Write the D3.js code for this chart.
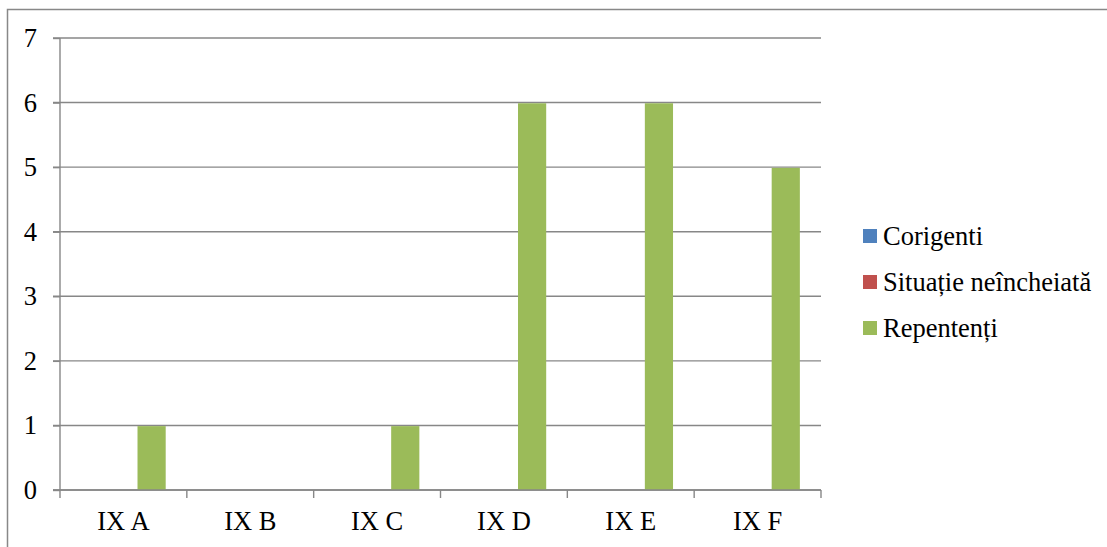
<!DOCTYPE html>
<html><head><meta charset="utf-8">
<script src="https://cdn.jsdelivr.net/npm/d3@7"></script>
<style>body{margin:0;background:#fff}svg{display:block}</style>
</head><body><svg id="c" width="1107" height="547" font-family="Liberation Serif" style="font-family:'Liberation Serif'"></svg>
<script>
const categories = ["IX A","IX B","IX C","IX D","IX E","IX F"];
const seriesNames = ["Corigenti","Situație neîncheiată","Repentenți"];
const corigenti = [0,0,0,0,0,0];
const situatie = [0,0,0,0,0,0];
const repetenti = [1,0,1,6,6,5];
const yTicks = [0,1,2,3,4,5,6,7];
const colors = ["#4F81BD","#C0504D","#9BBB59"];
const seriesVals = [corigenti, situatie, repetenti];

const svg = d3.select("#c");
const L=60,R=821,T=38,B=490;
const grid="#878787";
const FS=26.5, FF="Liberation Serif";
function styleText(sel){
  sel.attr("font-family",FF).attr("font-size",FS).attr("fill","#000")
     .style("font-family",`'${FF}'`).style("font-size",FS+"px");
}
svg.append("rect").attr("x",7.5).attr("y",9.5).attr("width",1120).attr("height",560)
  .attr("fill","none").attr("stroke","#888").attr("stroke-width",1.5);

const x = d3.scaleBand().domain(categories).range([L,R]);
const y = d3.scaleLinear().domain([0,7]).range([B,T]);
const gap = 1.5;
const bw = x.bandwidth()/(3+gap);

svg.append("g").selectAll("line").data(yTicks).join("line")
  .attr("x1",L-7).attr("x2",R).attr("y1",d=>y(d)).attr("y2",d=>y(d))
  .attr("stroke",grid).attr("stroke-width",1.4);

const ya = svg.append("g").attr("transform",`translate(${L},0)`)
  .call(d3.axisLeft(y).tickValues(yTicks).tickSize(7).tickPadding(16).tickFormat(d3.format("d")));
ya.attr("font-family",FF).attr("font-size",FS);
ya.select(".domain").attr("stroke",grid).attr("stroke-width",1.4).attr("d",`M0,${T}V${B+8}`);
ya.selectAll(".tick line").attr("stroke",grid).attr("stroke-width",1.4);
styleText(ya.selectAll("text"));

seriesVals.forEach((vals,si)=>{
  svg.append("g").selectAll("rect").data(categories).join("rect")
    .attr("x",d=>x(d)+bw*gap/2+si*bw).attr("width",bw)
    .attr("y",(d,i)=>y(vals[i])+0.7).attr("height",(d,i)=>Math.max(0,B-y(vals[i])-0.7))
    .attr("fill",colors[si]);
});

const xa = svg.append("g").attr("transform",`translate(0,${B})`)
  .call(d3.axisBottom(x).tickSize(0).tickPadding(21));
xa.attr("font-family",FF).attr("font-size",FS);
xa.select(".domain").remove();
styleText(xa.selectAll("text"));
svg.append("line").attr("x1",L-7).attr("x2",R).attr("y1",B).attr("y2",B).attr("stroke",grid).attr("stroke-width",1.4);
const bounds = categories.map(c=>x(c)+x.bandwidth());
svg.append("g").selectAll("line").data(bounds).join("line")
  .attr("x1",d=>d).attr("x2",d=>d).attr("y1",B).attr("y2",B+8)
  .attr("stroke",grid).attr("stroke-width",1.4);

const lg = svg.append("g").selectAll("g").data(seriesNames).join("g")
  .attr("transform",(d,i)=>`translate(863,${236+i*46})`);
lg.append("rect").attr("x",0).attr("y",-7).attr("width",14).attr("height",14).attr("fill",(d,i)=>colors[i]);
styleText(lg.append("text").attr("x",20).attr("y",0).attr("dy","0.35em").text(d=>d));
</script></body></html>
